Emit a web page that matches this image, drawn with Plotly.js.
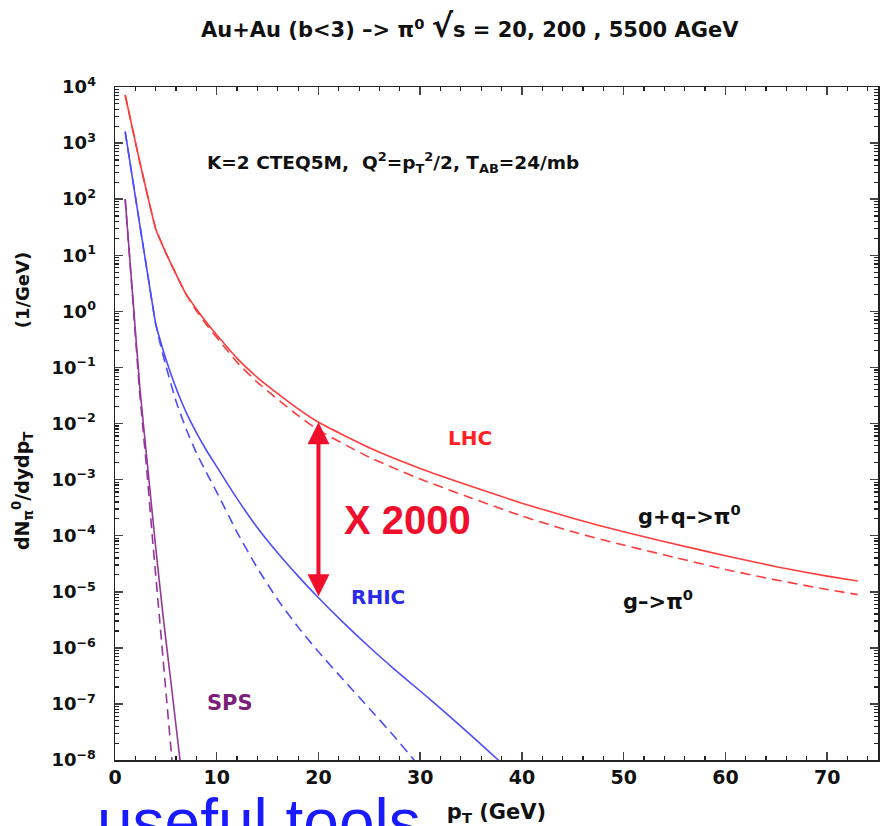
<!DOCTYPE html>
<html>
<head>
<meta charset="utf-8">
<script src="https://cdn.plot.ly/plotly-3.0.1.min.js"></script>
<style>html,body{margin:0;padding:0;background:#fff;}#chart{width:883px;height:826px;}</style>
</head>
<body>
<div id="chart"></div>
<script>
// ---- data (pT in GeV, dN/dydpT in 1/GeV) ----
const pT_LHC = [1.0,1.5,2.0,2.5,3.0,3.5,4.0,4.5,5.0,5.5,6.0,6.5,7.0,8.0,9.0,10,11,12,14,16,18,20,25,30,35,40,45,50,55,60,65,70,73];
const LHC_gq = [7.2e3,2.75e3,1.05e3,4.1e2,1.66e2,68,29.5,17.8,11,7.1,4.6,3.0,2.0,1.1,0.63,0.38,0.234,0.145,0.066,0.034,0.0182,0.0105,3.7e-3,1.58e-3,7.6e-4,3.8e-4,2.04e-4,1.17e-4,7.1e-5,4.4e-5,2.8e-5,1.9e-5,1.55e-5];
const LHC_g  = [7.2e3,2.75e3,1.05e3,4.1e2,1.66e2,68,29.5,17.8,11,7.1,4.6,3.0,2.0,1.02,0.575,0.34,0.204,0.123,0.054,0.027,0.0138,7.6e-3,2.5e-3,1.02e-3,4.7e-4,2.24e-4,1.17e-4,6.8e-5,4.1e-5,2.5e-5,1.62e-5,1.1e-5,8.9e-6];

const pT_RHIC_gq = [1.0,1.5,2.0,2.5,3.0,3.5,4.0,4.5,5.0,6.0,7.0,8.0,9.0,10,12,14,16,18,20,22.5,25,27.5,30,32.5,35,37.7,38.5];
const RHIC_gq    = [1.6e3,4.2e2,1.12e2,29.5,7.9,2.14,0.60,0.28,0.141,0.043,0.0158,6.9e-3,3.3e-3,1.7e-3,4.57e-4,1.38e-4,4.9e-5,1.9e-5,7.8e-6,2.75e-6,1.035e-6,4.1e-7,1.7e-7,6.9e-8,2.75e-8,9.9e-9,7.2e-9];
const pT_RHIC_g  = [1.0,1.5,2.0,2.5,3.0,3.5,4.0,4.5,5.0,6.0,7.0,8.0,9.0,10,12,14,16,18,20,22.5,25,27.5,29.3,30];
const RHIC_g     = [1.6e3,4.2e2,1.12e2,29.5,7.9,2.14,0.60,0.24,0.107,0.025,7.9e-3,3.0e-3,1.32e-3,6.0e-4,1.15e-4,2.63e-5,7.2e-6,2.34e-6,8.5e-7,2.63e-7,8.3e-8,2.57e-8,1.05e-8,7.4e-9];

const pT_SPS_gq = [1.0,1.77,2.46,3.24,3.93,4.72,5.60,6.39,6.6];
const SPS_gq    = [100,1.6,0.04,1.5e-3,8.3e-5,3.8e-6,1.7e-7,1e-8,5e-9];
const pT_SPS_g  = [1.0,1.75,2.40,3.12,3.70,4.35,5.00,5.60,5.8];
const SPS_g     = [100,1.6,0.04,1.5e-3,8.3e-5,3.8e-6,1.7e-7,1e-8,4e-9];

const xTicks = [0,10,20,30,40,50,60,70];
const yTickVals = [1e-8,1e-7,1e-6,1e-5,1e-4,1e-3,1e-2,1e-1,1,10,100,1e3,1e4];
const yTickText = ['10<sup>\u22128</sup>','10<sup>\u22127</sup>','10<sup>\u22126</sup>','10<sup>\u22125</sup>','10<sup>\u22124</sup>',
  '10<sup>\u22123</sup>','10<sup>\u22122</sup>','10<sup>\u22121</sup>','10<sup>0</sup>','10<sup>1</sup>','10<sup>2</sup>','10<sup>3</sup>','10<sup>4</sup>'];
// double arrow "X 2000" between LHC and RHIC at pT = 20
const arrowPT = 20, arrowTop = 0.0105, arrowBottom = 7.8e-6;

const RED = '#ff3b3b', BLUE = '#4d4dff', PURPLE = '#94379a';
const FF = 'DejaVu Sans, Liberation Sans, Arial, sans-serif';

function tr(x, y, color, dashed) {
  return {x: x, y: y, type: 'scatter', mode: 'lines', hoverinfo: 'skip',
    line: {color: color, width: 1.6, dash: dashed ? '10px,6px' : 'solid', shape: 'spline', smoothing: 0.5}};
}
const data = [
  tr(pT_LHC, LHC_gq, RED, false), tr(pT_LHC, LHC_g, RED, true),
  tr(pT_RHIC_gq, RHIC_gq, BLUE, false), tr(pT_RHIC_g, RHIC_g, BLUE, true),
  tr(pT_SPS_gq, SPS_gq, PURPLE, false), tr(pT_SPS_g, SPS_g, PURPLE, true)
];

const lg = Math.log10;
const annotations = [
  {x: 8.85, y: 2.66, xref: 'x', yref: 'y', xanchor: 'left', showarrow: false,
   text: 'K=2 CTEQ5M,&nbsp; Q<sup>2</sup>=p<sub>T</sub><sup>2</sup>/2, T<sub>AB</sub>=24/mb',
   font: {family: FF, size: 18.5, color: '#111', weight: 'bold'}},
  {x: 34.9, y: -2.26, xref: 'x', yref: 'y', showarrow: false, text: 'LHC',
   font: {family: FF, size: 20, color: '#ff2222', weight: 'bold'}},
  {x: 56.5, y: -3.63, xref: 'x', yref: 'y', showarrow: false, text: 'g+q&#8211;&gt;π<sup>0</sup>',
   font: {family: FF, size: 21, color: '#111', weight: 'bold'}},
  {x: 53.4, y: -5.15, xref: 'x', yref: 'y', showarrow: false, text: 'g&#8211;&gt;π<sup>0</sup>',
   font: {family: FF, size: 21, color: '#111', weight: 'bold'}},
  {x: 25.9, y: -5.09, xref: 'x', yref: 'y', showarrow: false, text: 'RHIC',
   font: {family: FF, size: 20, color: '#2a2ae8', weight: 'bold'}},
  {x: 11.3, y: -6.98, xref: 'x', yref: 'y', showarrow: false, text: 'SPS',
   font: {family: FF, size: 21, color: '#7a1f7a', weight: 'bold'}},
  {x: 28.8, y: -3.72, xref: 'x', yref: 'y', showarrow: false, text: 'X 2000',
   font: {family: 'Liberation Sans, Arial, sans-serif', size: 40, color: '#f0102e', weight: 'bold'}},
  {x: arrowPT, y: lg(arrowTop), ax: arrowPT, ay: lg(arrowBottom), xref: 'x', yref: 'y', axref: 'x', ayref: 'y',
   text: '', showarrow: true, arrowhead: 2, startarrowhead: 2, arrowside: 'end+start', arrowsize: 1.1, startarrowsize: 1.1,
   arrowwidth: 4, arrowcolor: '#f0102e', standoff: 0, startstandoff: 0},
  // y-axis title, drawn in two rotated pieces as in the reference
  {x: -0.1219, y: 0.401, xref: 'paper', yref: 'paper', xanchor: 'center', yanchor: 'middle', textangle: -90, showarrow: false,
   text: 'dN<sub>π</sub><sup>0</sup>/dydp<sub>T</sub>', font: {family: FF, size: 19, color: '#111', weight: 'bold'}},
  {x: -0.1219, y: 0.698, xref: 'paper', yref: 'paper', xanchor: 'center', yanchor: 'middle', textangle: -90, showarrow: false,
   text: '(1/GeV)', font: {family: FF, size: 18, color: '#111', weight: 'bold'}},
  {x: -0.026, y: -0.035, xref: 'paper', yref: 'paper', xanchor: 'left', yanchor: 'top', showarrow: false,
   text: 'useful tools', font: {family: 'Liberation Sans, Arial, sans-serif', size: 64, color: '#1a1aff'}}
];

const layout = {
  width: 883, height: 826,
  margin: {l: 115, r: 5, t: 87, b: 66},
  paper_bgcolor: '#fff', plot_bgcolor: '#fff',
  showlegend: false,
  title: {text: 'Au+Au (b&lt;3) &#8211;&gt; π<sup>0</sup> <span style="font-size:32px">√</span>s = 20, 200 , 5500 AGeV',
    x: 0.532, xref: 'container', xanchor: 'center', y: 1 - 30/826, yref: 'container', yanchor: 'middle',
    font: {family: FF, size: 21, color: '#111', weight: 'bold'}},
  xaxis: {range: [0, 75], tickvals: xTicks, ticktext: xTicks.map(String), ticks: 'inside', ticklen: 8, tickwidth: 1.5,
    showline: true, linewidth: 1.5, linecolor: '#222', mirror: 'ticks', showgrid: false, zeroline: false,
    minor: {dtick: 2, ticklen: 4, tickwidth: 1.2, ticks: 'inside', tickcolor: '#222'},
    tickfont: {family: FF, size: 19, color: '#111', weight: 'bold'},
    title: {text: 'p<sub>T</sub> (GeV)', standoff: 17, font: {family: FF, size: 21, color: '#111', weight: 'bold'}}},
  yaxis: {type: 'log', range: [-8, 4], tickmode: 'array', tickvals: yTickVals, ticktext: yTickText,
    ticks: 'inside', ticklen: 8, tickwidth: 1.5, ticklabelstandoff: 14,
    showline: true, linewidth: 1.5, linecolor: '#222', mirror: 'ticks', showgrid: false, zeroline: false,
    minor: {dtick: 'D1', ticklen: 4, tickwidth: 1.2, ticks: 'inside', tickcolor: '#222'},
    tickfont: {family: FF, size: 18, color: '#111', weight: 'bold'}},
  annotations: annotations
};

Plotly.newPlot('chart', data, layout, {staticPlot: true, displayModeBar: false});
</script>
</body>
</html>
